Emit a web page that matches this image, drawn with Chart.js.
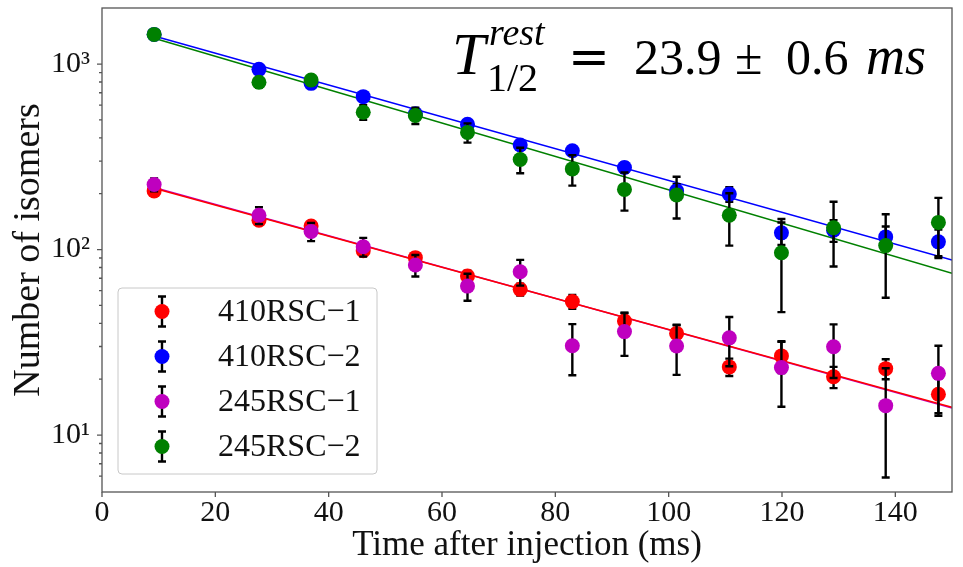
<!DOCTYPE html>
<html>
<head>
<meta charset="utf-8">
<script src="https://cdn.jsdelivr.net/npm/chart.js@4.4.1/dist/chart.umd.min.js"></script>
<style>
  html, body { margin: 0; padding: 0; background: #fff; }
</style>
</head>
<body>
<canvas id="isomers" width="963" height="567"></canvas>
<script>
// time bins (ms)
const times = [9.2, 27.7, 36.9, 46.1, 55.3, 64.5, 73.8, 83.0, 92.2, 101.4, 110.7, 119.9, 129.1, 138.3, 147.6];

const seriesNames = ["410RSC\u22121", "410RSC\u22122", "245RSC\u22121", "245RSC\u22122"];
const seriesColors = ["#ff0000", "#0000ff", "#bf00bf", "#008000"];

const counts410_1 = [207, 144, 134, 98.6, 90.4, 71.9, 61, 52.4, 41.2, 35.3, 23.3, 26.7, 20.6, 22.8, 16.6];
const errors410_1 = [8, 7, 7, 6, 5.5, 5, 4.5, 4.5, 4.4, 3.8, 2.5, 5.1, 2.7, 2.8, 3.5];

const counts410_2 = [1445, 936, 787, 667, 540, 473, 366, 341, 277, 207, 199, 123, 127, 117, 110];
const errors410_2 = [20, 20, 20, 20, 19, 19, 19, 18, 18, 18, 18, 17, 17, 16, 18];

const counts245_1 = [224, 153, 125, 103.6, 82.5, 63.5, 75.9, 30.3, 36.1, 30.2, 33.4, 23.1, 29.9, 14.4, 21.5];
const errors245_1 = [18, 16, 14, 12, 11, 10.5, 12, 9.3, 9.4, 9.1, 9.9, 8.9, 9.6, 8.5, 8.8];

const counts245_2 = [1445, 797, 820, 550, 528, 428, 306, 272, 211, 197, 153, 96, 131, 105, 140];
const errors245_2 = [52, 50, 50, 50, 53, 51, 48, 51, 49, 50, 48, 50, 50, 50, 50];

// exponential fits, given by their end points
const fitTimes = [9.2, 150];
const fit410_1 = [214, 14.1];
const fit410_2 = [1416, 87.7];
const fit245_1 = [216, 14.0];
const fit245_2 = [1377, 74.5];

const xTicks = [0, 20, 40, 60, 80, 100, 120, 140];

const serif = '"Liberation Serif", "Times New Roman", serif';

const allCounts = [counts410_1, counts410_2, counts245_1, counts245_2];
const allErrors = [errors410_1, errors410_2, errors245_1, errors245_2];
const allFits = [fit410_1, fit410_2, fit245_1, fit245_2];

const pts = (xs, ys) => xs.map((x, i) => ({ x: x, y: ys[i] }));

const datasets = [];
allFits.forEach((fit, i) => {
  datasets.push({
    label: "fit " + seriesNames[i],
    data: pts(fitTimes, fit),
    showLine: true,
    borderColor: seriesColors[i],
    borderWidth: 1.5,
    pointRadius: 0,
    order: 10,
  });
});
allCounts.forEach((c, i) => {
  datasets.push({
    label: seriesNames[i],
    data: pts(times, c),
    errors: allErrors[i],
    backgroundColor: seriesColors[i],
    borderWidth: 0,
    pointRadius: 7.5,
    order: 4 - i,
  });
});

// black error bars, drawn just under each series' markers
const errorBars = {
  id: "errorBars",
  beforeDatasetDraw(chart, args) {
    const ds = chart.data.datasets[args.index];
    if (!ds.errors) return;
    const ctx = chart.ctx;
    const y = chart.scales.y;
    ctx.save();
    ctx.strokeStyle = "#000";
    ctx.lineWidth = 2.4;
    args.meta.data.forEach((pt, i) => {
      const v = ds.data[i].y, e = ds.errors[i];
      const top = y.getPixelForValue(v + e);
      const bot = y.getPixelForValue(v - e);
      ctx.beginPath();
      ctx.moveTo(pt.x, top);
      ctx.lineTo(pt.x, bot);
      ctx.moveTo(pt.x - 4, top);
      ctx.lineTo(pt.x + 4, top);
      ctx.moveTo(pt.x - 4, bot);
      ctx.lineTo(pt.x + 4, bot);
      ctx.stroke();
    });
    ctx.restore();
  },
};

// frame, tick marks, legend and the half-life text
const decor = {
  id: "decor",
  afterDatasetsDraw(chart) {
    const ctx = chart.ctx;
    const a = chart.chartArea;
    const xs = chart.scales.x, ys = chart.scales.y;
    ctx.save();
    ctx.strokeStyle = "#555";
    ctx.lineWidth = 1.3;
    ctx.strokeRect(a.left, a.top, a.right - a.left, a.bottom - a.top);

    ctx.beginPath();
    xTicks.forEach((t) => {
      const px = xs.getPixelForValue(t);
      ctx.moveTo(px, a.bottom);
      ctx.lineTo(px, a.bottom + 5);
    });
    ys.ticks.forEach((t) => {
      const v = t.value;
      const ex = Math.floor(Math.log10(v) + 1e-9);
      const sig = v / Math.pow(10, ex);
      if (Math.abs(sig - Math.round(sig)) > 1e-6) return;
      const py = ys.getPixelForValue(v);
      if (py < a.top + 0.5 || py > a.bottom - 0.5) return;
      const len = Math.round(sig) === 1 ? 5 : 3;
      ctx.moveTo(a.left, py);
      ctx.lineTo(a.left - len, py);
    });
    ctx.stroke();

    // legend
    const lx = 118, ly = 288, lw = 259, lh = 186;
    ctx.fillStyle = "rgba(255,255,255,0.8)";
    ctx.strokeStyle = "#c8c8c8";
    ctx.lineWidth = 1;
    ctx.beginPath();
    ctx.roundRect(lx, ly, lw, lh, 4);
    ctx.fill();
    ctx.stroke();
    seriesNames.forEach((name, i) => {
      const ry = 311.5 + 45 * i;
      ctx.strokeStyle = "#000";
      ctx.lineWidth = 2.4;
      ctx.beginPath();
      ctx.moveTo(162, ry - 15);
      ctx.lineTo(162, ry + 15);
      ctx.moveTo(158, ry - 15);
      ctx.lineTo(166, ry - 15);
      ctx.moveTo(158, ry + 15);
      ctx.lineTo(166, ry + 15);
      ctx.stroke();
      ctx.fillStyle = seriesColors[i];
      ctx.beginPath();
      ctx.arc(162, ry, 7.5, 0, Math.PI * 2);
      ctx.fill();
      ctx.fillStyle = "#111";
      ctx.font = "32px " + serif;
      ctx.textAlign = "left";
      ctx.textBaseline = "middle";
      ctx.fillText(name, 218, ry + 1);
    });

    // half-life annotation
    ctx.fillStyle = "#000";
    ctx.textBaseline = "alphabetic";
    ctx.textAlign = "left";
    ctx.font = "italic 60px " + serif;
    ctx.fillText("T", 452, 74);
    ctx.font = "italic 38px " + serif;
    ctx.fillText("rest", 489, 45);
    ctx.font = "40px " + serif;
    ctx.fillText("1/2", 487, 91);
    ctx.font = '50px "DejaVu Serif", serif';
    ctx.fillText("=", 568, 74);
    ctx.font = "50px " + serif;
    ctx.fillText("23.9", 634, 74);
    ctx.fillText("\u00b1", 735, 74);
    ctx.fillText("0.6", 786, 74);
    ctx.font = "italic 54px " + serif;
    ctx.fillText("ms", 866, 74);
    ctx.restore();
  },
};

new Chart(document.getElementById("isomers"), {
  type: "scatter",
  data: { datasets: datasets },
  options: {
    responsive: false,
    animation: false,
    devicePixelRatio: 1,
    layout: { padding: { left: 0, right: 11, top: 8, bottom: 0 } },
    scales: {
      x: {
        type: "linear",
        min: 0,
        max: 150,
        grid: { display: false, drawTicks: false },
        border: { display: false },
        afterBuildTicks: (s) => {
          s.ticks = xTicks.map((v) => ({ value: v }));
        },
        afterFit: (s) => {
          s.height = 75;
          s.paddingLeft = 0;
          s.paddingRight = 0;
        },
        ticks: {
          autoSkip: false,
          maxRotation: 0,
          padding: 3,
          color: "#111",
          font: { family: serif, size: 30 },
        },
        title: {
          display: true,
          text: "Time after injection (ms)",
          color: "#111",
          font: { family: serif, size: 35 },
          padding: { top: 0, bottom: 0 },
        },
      },
      y: {
        type: "logarithmic",
        min: 4.93,
        max: 2005,
        grid: { display: false, drawTicks: false },
        border: { display: false },
        afterFit: (s) => {
          s.width = 102;
          s.paddingTop = 0;
          s.paddingBottom = 0;
        },
        ticks: {
          autoSkip: false,
          padding: 12,
          color: "#111",
          font: { family: serif, size: 30 },
          callback: (v) => {
            if (v === 10) return "10\u00b9";
            if (v === 100) return "10\u00b2";
            if (v === 1000) return "10\u00b3";
            return "";
          },
        },
        title: {
          display: true,
          text: "Number of isomers",
          color: "#111",
          font: { family: serif, size: 38 },
          padding: { top: 6, bottom: 0 },
        },
      },
    },
    plugins: {
      legend: { display: false },
      tooltip: { enabled: false },
    },
  },
  plugins: [errorBars, decor],
});
</script>
</body>
</html>
